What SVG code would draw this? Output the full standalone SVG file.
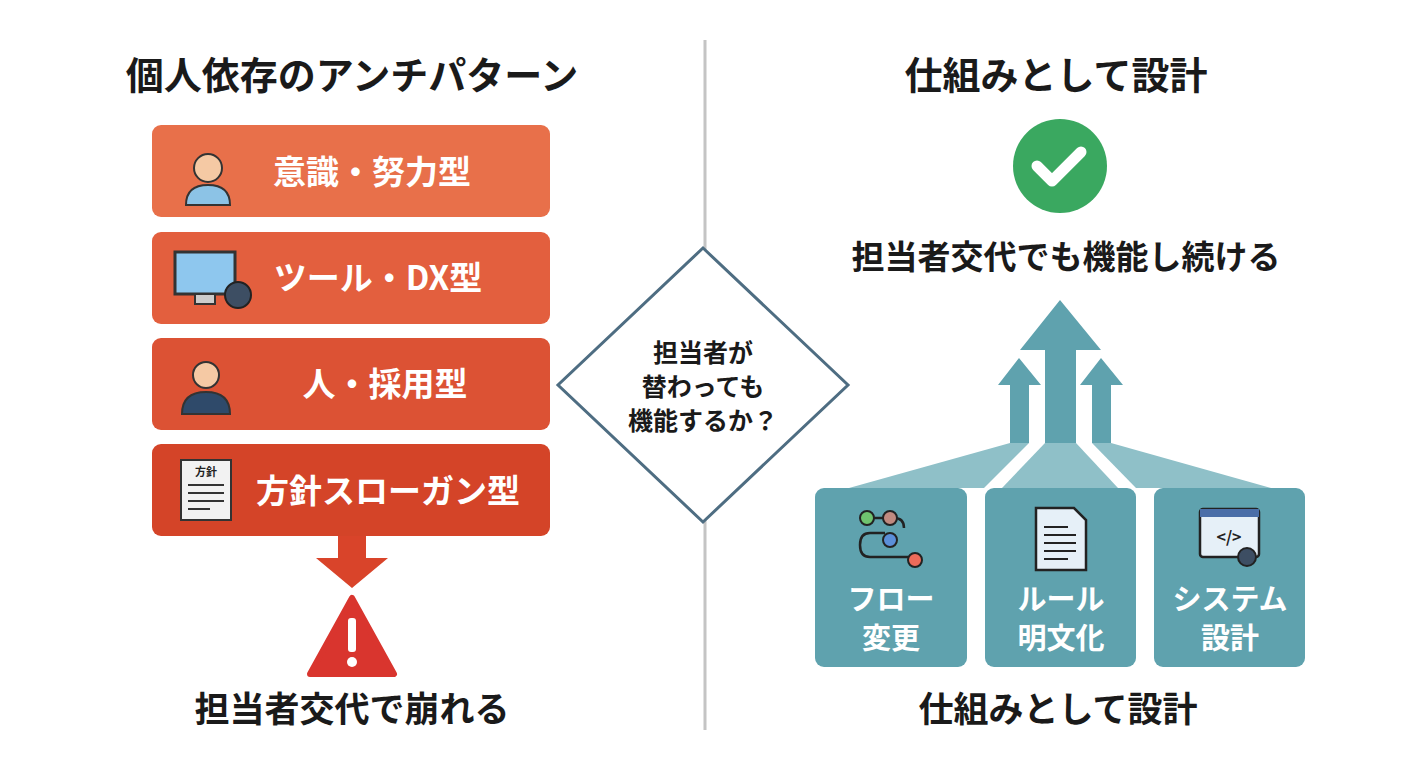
<svg xmlns="http://www.w3.org/2000/svg" width="1408" height="768" viewBox="0 0 1408 768">
<style>
text{font-family:"Noto Sans CJK JP","Noto Sans",sans-serif;font-weight:700;text-anchor:middle}
.t{font-size:38px;fill:#1a1a1a}
.w{fill:#fff;font-size:33px}
.v{fill:#fff;font-size:29px}
.tb{fill:#5fa2ae}
.fan{fill:#8fc0c8}
</style>
<rect width="1408" height="768" fill="#fff"/>
<line x1="705" y1="40" x2="705" y2="730" stroke="#c4c4c4" stroke-width="3"/>
<text class="t" x="352" y="89">個人依存のアンチパターン</text>
<text class="t" x="1056" y="89">仕組みとして設計</text>
<g id="n1"><rect x="152" y="125" width="398" height="92" rx="9" fill="#e8704a"/>
<circle cx="208" cy="168" r="14" fill="#f5c9a4" stroke="#333" stroke-width="2"/><path d="M186 205q0-20 22-20t22 20z" fill="#8cc3e6" stroke="#333" stroke-width="2"/>
<text class="w" x="372" y="184">意識・努力型</text></g>
<g id="n2"><rect x="152" y="232" width="398" height="92" rx="9" fill="#e35f3e"/>
<rect x="175" y="252" width="60" height="42" fill="#8ec7ee" stroke="#333" stroke-width="3"/><rect x="195" y="294" width="20" height="10" fill="#ccc" stroke="#333" stroke-width="2"/><circle cx="238" cy="295" r="13" fill="#3d4e63" stroke="#222" stroke-width="2"/>
<text class="w" x="378" y="290">ツール・DX型</text></g>
<g id="n3"><rect x="152" y="338" width="398" height="92" rx="9" fill="#dc5234"/>
<circle cx="206" cy="375" r="13" fill="#f5c9a4" stroke="#333" stroke-width="2"/><path d="M182 414q0-22 24-22t24 22z" fill="#2f4a6a" stroke="#333" stroke-width="2"/>
<text class="w" x="385" y="396">人・採用型</text></g>
<g id="n4"><rect x="152" y="444" width="398" height="92" rx="9" fill="#d44428"/>
<path d="M181 460h50v60h-50z" fill="#f2f2f2" stroke="#333" stroke-width="2"/><text x="206" y="476" style="font-size:11px;fill:#222">方針</text><path d="M188 485h36M188 493h36M188 501h36M188 509h22" stroke="#333" stroke-width="2"/>
<text class="w" x="388" y="503">方針スローガン型</text></g>
<g id="connectors">
<path d="M338 536h28v22h22l-36 30l-36-30h22z" fill="#d9442a"/>
<path d="M1060 300l41 50h-25v93h-31v-93h-25z" class="tb"/>
<path d="M1019 358l22 27h-12v58h-19v-58h-12z" class="tb"/>
<path d="M1101 358l22 27h-12v58h-19v-58h-12z" class="tb"/>
<path d="M1010 443h19l-45 45h-135z" class="fan"/>
<path d="M1045 443h31l42 45h-116z" class="fan"/>
<path d="M1092 443h19l160 45h-135z" class="fan"/>
</g>
<g id="warn"><path d="M352 598l42 76h-84z" fill="#d9352e" stroke="#d9352e" stroke-width="6" stroke-linejoin="round"/><rect x="348" y="618" width="8" height="34" rx="3" fill="#fff"/><circle cx="352" cy="662" r="5" fill="#fff"/></g>
<text class="t" x="352" y="722" style="font-size:35px">担当者交代で崩れる</text>
<g id="diamond"><path d="M703 248l145 137l-145 137l-145-137z" fill="#fff" stroke="#4e6d82" stroke-width="3"/>
<text x="703" y="362" style="font-size:25px;fill:#1a1a1a">担当者が</text>
<text x="703" y="396" style="font-size:25px;fill:#1a1a1a">替わっても</text>
<text x="703" y="430" style="font-size:25px;fill:#1a1a1a">機能するか？</text></g>
<g id="check"><circle cx="1060" cy="166" r="47" fill="#3aa860"/><path d="M1037 166l15 15l29-29" fill="none" stroke="#fff" stroke-width="11" stroke-linecap="round" stroke-linejoin="round"/></g>
<text x="1066" y="269" style="font-size:33px;fill:#1a1a1a">担当者交代でも機能し続ける</text>
<g id="b1"><rect x="815" y="488" width="152" height="179" rx="9" class="tb"/>
<path d="M867 518h27q10 0 10 10M885 533h-15q-10 0-10 12q0 12 10 12h43" fill="none" stroke="#222" stroke-width="2.5"/>
<circle cx="867" cy="518" r="7" fill="#6fc36f" stroke="#222" stroke-width="2"/><circle cx="890" cy="518" r="7" fill="#c08a80" stroke="#222" stroke-width="2"/><circle cx="890" cy="540" r="7" fill="#5b8fd8" stroke="#222" stroke-width="2"/><circle cx="915" cy="560" r="7" fill="#ec6b5a" stroke="#222" stroke-width="2"/>
<text class="v" x="891" y="610">フロー</text><text class="v" x="891" y="649">変更</text></g>
<g id="b2"><rect x="985" y="488" width="151" height="179" rx="9" class="tb"/>
<path d="M1036 508h38l12 12v50h-50z" fill="#e6f0f8" stroke="#222" stroke-width="2.5"/><path d="M1044 527h24M1044 535h32M1044 543h32M1044 551h32M1044 559h24" stroke="#222" stroke-width="2"/>
<text class="v" x="1061" y="610">ルール</text><text class="v" x="1061" y="649">明文化</text></g>
<g id="b3"><rect x="1154" y="488" width="151" height="179" rx="9" class="tb"/>
<rect x="1200" y="509" width="59" height="48" rx="3" fill="#e6f0f8" stroke="#222" stroke-width="2.5"/><rect x="1200" y="509" width="59" height="8" fill="#4a6ea8"/><text x="1229" y="543" style="font-size:16px;fill:#222">&lt;/&gt;</text><circle cx="1247" cy="557" r="9" fill="#3d4e63" stroke="#222" stroke-width="2"/>
<text class="v" x="1230" y="610">システム</text><text class="v" x="1230" y="649">設計</text></g>
<text class="t" x="1058" y="722" style="font-size:35px">仕組みとして設計</text>
</svg>
